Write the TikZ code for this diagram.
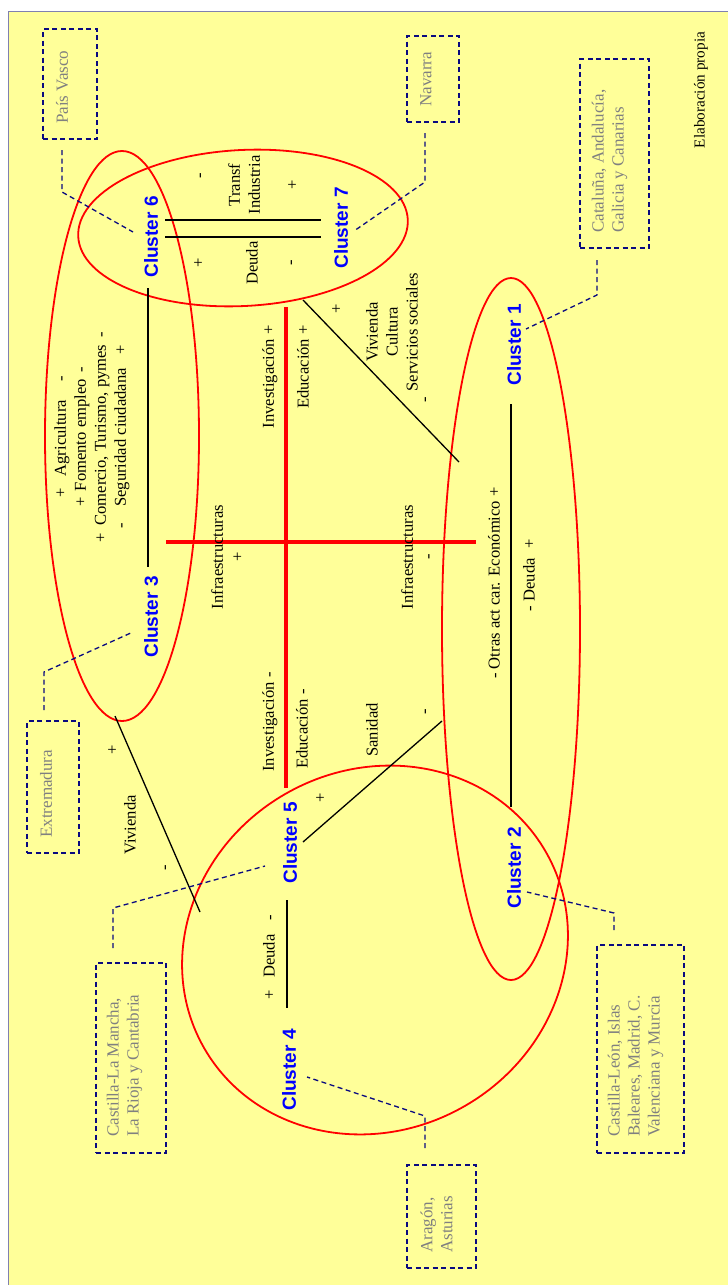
\documentclass[tikz,border=0pt]{standalone}
\usepackage{fontspec}
\setmainfont{Liberation Serif}
\newfontfamily\clfont{Liberation Sans}
\definecolor{bgyel}{RGB}{255,255,153}
\definecolor{frameblue}{RGB}{128,128,176}
\definecolor{dnavy}{RGB}{10,10,128}
\definecolor{rgray}{RGB}{128,128,128}
\definecolor{clblue}{RGB}{0,0,255}
\definecolor{ered}{RGB}{255,0,0}
\begin{document}
\begin{tikzpicture}[x=1pt,y=-1pt,
  lab/.style={rotate=90, inner sep=0pt, align=center, font=\fontsize{16.6}{20}\selectfont},
  clus/.style={rotate=90, inner sep=1pt, text=clblue, font=\clfont\bfseries\fontsize{19}{22}\selectfont},
  regbox/.style={draw=dnavy, line width=1.3pt, dash pattern=on 5pt off 3.5pt, inner sep=0pt},
  regtxt/.style={rotate=90, inner sep=0pt, align=left, anchor=west, text=rgray, font=\fontsize{17}{20}\selectfont},
  lead/.style={draw=dnavy, line width=1.3pt, dash pattern=on 5pt off 3.5pt},
  blk/.style={draw=black, line width=1.3pt},
  ell/.style={draw=ered, line width=1.8pt},
  crossline/.style={draw=ered, line width=4pt},
]
\useasboundingbox (0,0) rectangle (728,1285);
\clip (0,0) rectangle (728,1285);
\fill[white] (0,0) rectangle (728,1285);
\filldraw[fill=bgyel, draw=frameblue, line width=1pt] (8,11) rectangle (760,1320);

% ---------- red cross ----------
\coordinate (vx1) at (286,307); \coordinate (vx2) at (286,788);
\coordinate (hx1) at (166,542); \coordinate (hx2) at (476,542);
\draw[crossline] (vx1) -- (vx2);
\draw[crossline] (hx1) -- (hx2);

% ---------- ellipses ----------
\draw[ell, rotate around={3:(243,228)}] (243,228) ellipse [x radius=165pt, y radius=78pt];
\draw[ell] (122,436) ellipse [x radius=77pt, y radius=285pt];
\draw[ell] (511,629) ellipse [x radius=69pt, y radius=351pt];
\draw[ell, rotate around={30:(375,950)}] (375,950) ellipse [x radius=197pt, y radius=180pt];

% ---------- clusters ----------
\node[clus] (c6) at (151,237) {Cluster 6};
\node[clus] (c7) at (341,228) {Cluster 7};
\node[clus] (c3) at (151,617) {Cluster 3};
\node[clus] (c1) at (514,345) {Cluster 1};
\node[clus] (c5) at (290,843) {Cluster 5};
\node[clus] (c2) at (514,868) {Cluster 2};
\node[clus] (c4) at (289,1070) {Cluster 4};

% ---------- black connectors ----------
\coordinate (a67s) at (165,220); \coordinate (a67e) at (321,220);
\coordinate (b67s) at (165,237); \coordinate (b67e) at (321,237);
\draw[blk] (a67s) -- (a67e);
\draw[blk] (b67s) -- (b67e);
\coordinate (l36s) at (148,288); \coordinate (l36e) at (148,567);
\draw[blk] (l36s) -- (l36e);
\coordinate (lvs) at (115,716); \coordinate (lve) at (200,912);
\draw[blk] (lvs) -- (lve);
\coordinate (lss) at (303,842); \coordinate (lse) at (442,721);
\draw[blk] (lss) -- (lse);
\coordinate (l45s) at (287,900); \coordinate (l45e) at (287,1008);
\draw[blk] (l45s) -- (l45e);
\coordinate (l12s) at (511,404); \coordinate (l12e) at (511,807);
\draw[blk] (l12s) -- (l12e);
\coordinate (l7s) at (303,300); \coordinate (l7e) at (459,462);
\draw[blk] (l7s) -- (l7e);

% ---------- labels ----------
\node[lab] (t67m1) at (202,176) {-};
\node[lab] (t67ti) at (244,185) {Transf\\Industria};
\node[lab] (t67p1) at (293,185) {+};
\node[lab] (t67p2) at (199,263) {+};
\node[lab] (t67d) at (252,263) {Deuda};
\node[lab] (t67m2) at (293,263) {-};

\node[lab] (t3) at (92,437) {+\hspace{8pt} Agricultura \hspace{14pt}-\\
+\hspace{2pt} Fomento empleo \hspace{2pt}-\\
+\hspace{3pt} Comercio, Turismo, pymes \hspace{3pt}-\\
-\hspace{12pt} Seguridad ciudadana \hspace{9pt}+};

\node[lab] (tinv1) at (270,377) {Investigación +};
\node[lab] (tedu1) at (303,367) {Educación +};
\node[lab] (tinv2) at (270,722) {Investigación -};
\node[lab] (tedu2) at (302,729) {Educación -};
\node[lab] (tinf1) at (227,557) {Infraestructuras\\+};
\node[lab] (tinf2) at (417,557) {Infraestructuras\\-};

\node[lab] (t7p) at (337,309) {+};
\node[lab] (t7v) at (392,332) {Vivienda\\Cultura\\Servicios sociales};
\node[lab] (t7m) at (427,400) {-};

\node[lab] (tvp) at (113,750) {+};
\node[lab] (tvv) at (130,825) {Vivienda};
\node[lab] (tvm) at (167,868) {-};

\node[lab] (tsp) at (321,798) {+};
\node[lab] (tsn) at (372,730) {Sanidad};
\node[lab] (tsm) at (427,712) {-};

\node[lab] (t45) at (269,957) {+\hspace{8pt} Deuda \hspace{10pt}-};

\node[lab] (t12a) at (494,583) {- Otras act car. Económico +};
\node[lab] (t12b) at (529,575) {- Deuda \hspace{6pt}+};

\node[rotate=90, inner sep=0pt, font=\fontsize{15.2}{18}\selectfont] (elab) at (701,90) {Elaboración propia};

% ---------- region boxes ----------
\node[regbox, minimum width=54pt, minimum height=110pt] (bpv) at (70,84) {};
\node[regtxt] (tpv) at (62,124) {País Vasco};
\node[regbox, minimum width=52pt, minimum height=86pt] (bnav) at (433,79) {};
\node[regtxt] (tnav) at (426,107) {Navarra};
\node[regbox, minimum width=69pt, minimum height=189pt] (bcat) at (614.5,153.5) {};
\node[regtxt] (tcat) at (609.5,233) {Cataluña, Andalucía,\\Galicia y Canarias};
\node[regbox, minimum width=52pt, minimum height=132pt] (bext) at (53,787) {};
\node[regtxt] (text) at (46,838) {Extremadura};
\node[regbox, minimum width=70pt, minimum height=190pt] (bclm) at (131,1058) {};
\node[regtxt] (tclm) at (124.5,1137) {Castilla-La Mancha,\\La Rioja y Cantabria};
\node[regbox, minimum width=69pt, minimum height=103pt] (barag) at (441.5,1216.5) {};
\node[regtxt] (tarag) at (436.5,1253) {Aragón,\\Asturias};
\node[regbox, minimum width=87pt, minimum height=208pt] (bcle) at (640.5,1049) {};
\node[regtxt] (tcle) at (635.5,1137) {Castilla-León, Islas\\Baleares, Madrid, C.\\Valenciana y Murcia};

% ---------- dashed leaders ----------
\coordinate (pv1) at (62,150); \coordinate (pv2) at (62,192); \coordinate (pv3) at (133,232);
\draw[lead] (pv1) -- (pv2) -- (pv3);
\coordinate (nv1) at (425,133); \coordinate (nv2) at (425,182); \coordinate (nv3) at (354,231);
\draw[lead] (nv1) -- (nv2) -- (nv3);
\coordinate (ct1) at (597,260); \coordinate (ct2) at (597,295); \coordinate (ct3) at (526,329);
\draw[lead] (ct1) -- (ct2) -- (ct3);
\coordinate (ex1) at (44,710); \coordinate (ex2) at (44,672); \coordinate (ex3) at (133,632);
\draw[lead] (ex1) -- (ex2) -- (ex3);
\coordinate (cm1) at (113,948); \coordinate (cm2) at (113,908); \coordinate (cm3) at (265,866);
\draw[lead] (cm1) -- (cm2) -- (cm3);
\coordinate (ar1) at (425,1148); \coordinate (ar2) at (425,1116); \coordinate (ar3) at (307,1077);
\draw[lead] (ar1) -- (ar2) -- (ar3);
\coordinate (cl1) at (614,930); \coordinate (cl2) at (614,913); \coordinate (cl3) at (527,892);
\draw[lead] (cl1) -- (cl2) -- (cl3);
\end{tikzpicture}
\end{document}
